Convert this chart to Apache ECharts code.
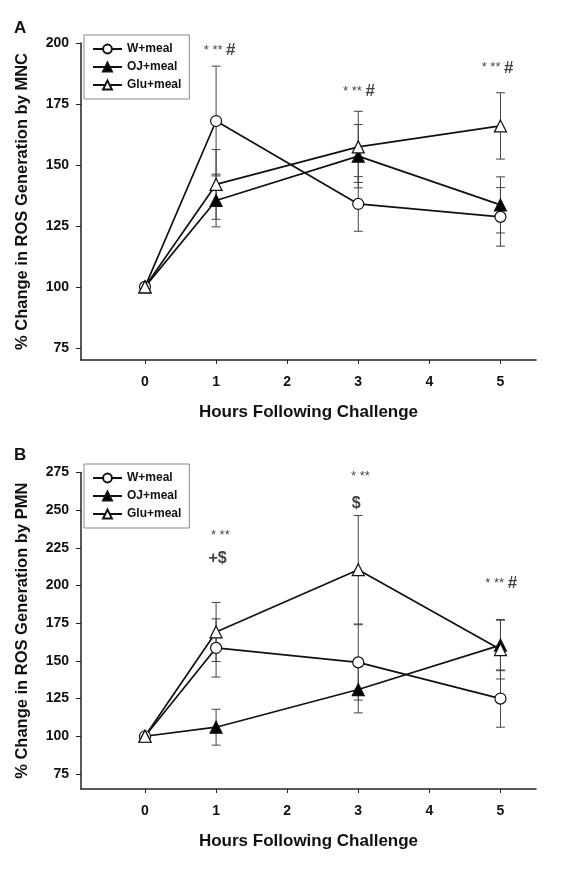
<!DOCTYPE html>
<html>
<head>
<meta charset="utf-8">
<script src="https://cdn.jsdelivr.net/npm/echarts@6/dist/echarts.min.js"></script>
<style>
html,body{margin:0;padding:0;background:#fff;}
#main{width:568px;height:870px;}
</style>
</head>
<body>
<div id="main"></div>
<script>
// hours after the challenge
var hours = [0, 1, 3, 5];
var xTicks = [0, 1, 2, 3, 4, 5];

// panel A: MNC
var wMealA = [100, 168, 134, 128.7];
var wErrA = [0, 22.5, 11.2, 12];
var ojMealA = [100, 135.4, 153.6, 133.6];
var ojErrA = [0, 10.8, 13, 11.5];
var gluMealA = [100, 142, 157.4, 166];
var gluErrA = [0, 14.3, 14.6, 13.6];
var yTicksA = [75, 100, 125, 150, 175, 200];

// panel B: PMN
var wMealB = [100, 158.6, 149, 125];
var wErrB = [0, 19.3, 25, 19];
var ojMealB = [100, 106, 131, 160.5];
var ojErrB = [0, 11.9, 15.5, 17];
var gluMealB = [100, 169.2, 210.5, 157.5];
var gluErrB = [0, 19.6, 36, 19.5];
var yTicksB = [75, 100, 125, 150, 175, 200, 225, 250, 275];

// significance marks
var annotXA = [1.05, 3.01, 4.96];
var annotYA = [197, 180.3, 189.8];
var annotTextA = ['* ** #', '* ** #', '* ** #'];
var annotXB = [1.06, 1.02, 3.03, 2.97, 5.01];
var annotYB = [233.4, 218, 272.7, 254.5, 201.3];
var annotTextB = ['* **', '+$', '* **', '$', '* ** #'];

var names = ['W+meal', 'OJ+meal', 'Glu+meal'];
var font = "'Liberation Sans', Arial, sans-serif";

var myChart = echarts.init(document.getElementById('main'));

function pts(vals) {
    return hours.map(function (h, i) { return [h, vals[i]]; });
}

function lineSeries(name, vals, idx, symbol, fill) {
    return {
        name: name,
        type: 'line',
        xAxisIndex: idx,
        yAxisIndex: idx,
        data: pts(vals),
        symbol: symbol,
        symbolSize: symbol == 'circle' ? 11 : 12,
        z: 5,
        lineStyle: { color: '#111', width: 1.7 },
        itemStyle: { color: fill, borderColor: '#111', borderWidth: 1.2 },
        emphasis: { disabled: true },
        animation: false
    };
}

function errSeries(name, vals, errs, idx) {
    var d = [];
    hours.forEach(function (h, i) {
        if (errs[i] > 0) d.push([h, vals[i] - errs[i], vals[i] + errs[i]]);
    });
    return {
        name: name + ' err',
        type: 'custom',
        xAxisIndex: idx,
        yAxisIndex: idx,
        data: d,
        encode: { x: 0, y: [1, 2] },
        z: 2,
        silent: true,
        animation: false,
        renderItem: function (params, api) {
            var x = api.value(0);
            var lo = api.coord([x, api.value(1)]);
            var hi = api.coord([x, api.value(2)]);
            var w = 4.5;
            var st = { stroke: '#444', lineWidth: 1 };
            return {
                type: 'group',
                children: [
                    { type: 'line', shape: { x1: lo[0], y1: lo[1], x2: hi[0], y2: hi[1] }, style: st },
                    { type: 'line', shape: { x1: hi[0] - w, y1: hi[1], x2: hi[0] + w, y2: hi[1] }, style: st },
                    { type: 'line', shape: { x1: lo[0] - w, y1: lo[1], x2: lo[0] + w, y2: lo[1] }, style: st }
                ]
            };
        }
    };
}

function fmtMark(t) {
    return t.split(' ').map(function (p) {
        if (p.indexOf('*') >= 0) return '{s|' + p + '}';
        if (p == '#') return '{h|#}';
        return '{d|' + p + '}';
    }).join('{s| }');
}

function annotSeries(xs, ys, texts, idx) {
    return {
        type: 'scatter',
        xAxisIndex: idx,
        yAxisIndex: idx,
        symbolSize: 0,
        silent: true,
        animation: false,
        data: xs.map(function (x, i) { return { value: [x, ys[i]], text: texts[i] }; }),
        label: {
            show: true,
            position: 'inside',
            formatter: function (p) { return fmtMark(p.data.text); },
            rich: {
                s: { fontFamily: font, fontSize: 13, color: '#111' },
                h: { fontFamily: font, fontSize: 17, fontWeight: 'bold', color: '#111' },
                d: { fontFamily: font, fontSize: 16, fontWeight: 'bold', color: '#111' }
            }
        }
    };
}

function xAxisCfg(idx) {
    return {
        type: 'value',
        gridIndex: idx,
        min: -0.9,
        max: 5.5,
        name: 'Hours Following Challenge',
        nameLocation: 'middle',
        nameGap: 44,
        nameTextStyle: { fontFamily: font, fontSize: 17, fontWeight: 'bold', color: '#111' },
        axisLine: { show: true, onZero: false, lineStyle: { color: '#222', width: 1.5 } },
        axisTick: { show: true, length: 4, customValues: xTicks, lineStyle: { color: '#222' } },
        axisLabel: { customValues: xTicks, margin: 15, fontFamily: font, fontSize: 14, fontWeight: 'bold', color: '#111' },
        splitLine: { show: false }
    };
}

function yAxisCfg(idx, min, max, ticks, title) {
    return {
        type: 'value',
        gridIndex: idx,
        min: min,
        max: max,
        name: title,
        nameLocation: 'middle',
        nameGap: 50,
        nameTextStyle: { fontFamily: font, fontSize: 16.5, fontWeight: 'bold', color: '#111' },
        axisLine: { show: true, onZero: false, lineStyle: { color: '#222', width: 1.5 } },
        axisTick: { show: true, length: 5, customValues: ticks, lineStyle: { color: '#222' } },
        axisLabel: { customValues: ticks, margin: 12, fontFamily: font, fontSize: 14, fontWeight: 'bold', color: '#111' },
        splitLine: { show: false }
    };
}

function legendCfg(top) {
    return {
        data: names,
        orient: 'vertical',
        left: 84,
        top: top,
        itemWidth: 29,
        itemHeight: 11,
        itemGap: 6,
        padding: [8, 8, 8, 8],
        borderColor: '#888',
        borderWidth: 1,
        selectedMode: false,
        textStyle: { fontFamily: font, fontSize: 12, fontWeight: 'bold', color: '#111' }
    };
}

option = {
    backgroundColor: '#fff',
    title: [
        { text: 'A', left: 14, top: 20, padding: 0, textStyle: { fontFamily: font, fontSize: 17, fontWeight: 'bold', color: '#111' } },
        { text: 'B', left: 14, top: 447, padding: 0, textStyle: { fontFamily: font, fontSize: 17, fontWeight: 'bold', color: '#111' } }
    ],
    legend: [legendCfg(35), legendCfg(464)],
    grid: [
        { left: 81, right: 32, top: 43, bottom: 510 },
        { left: 81, right: 32, top: 472.5, bottom: 81 }
    ],
    xAxis: [xAxisCfg(0), xAxisCfg(1)],
    yAxis: [
        yAxisCfg(0, 70, 200, yTicksA, '% Change in ROS Generation by MNC'),
        yAxisCfg(1, 65, 275, yTicksB, '% Change in ROS Generation by PMN')
    ],
    series: [
        errSeries('W+meal', wMealA, wErrA, 0),
        errSeries('OJ+meal', ojMealA, ojErrA, 0),
        errSeries('Glu+meal', gluMealA, gluErrA, 0),
        lineSeries('W+meal', wMealA, 0, 'circle', '#fff'),
        lineSeries('OJ+meal', ojMealA, 0, 'triangle', '#000'),
        lineSeries('Glu+meal', gluMealA, 0, 'triangle', '#fff'),
        errSeries('W+meal', wMealB, wErrB, 1),
        errSeries('OJ+meal', ojMealB, ojErrB, 1),
        errSeries('Glu+meal', gluMealB, gluErrB, 1),
        lineSeries('W+meal', wMealB, 1, 'circle', '#fff'),
        lineSeries('OJ+meal', ojMealB, 1, 'triangle', '#000'),
        lineSeries('Glu+meal', gluMealB, 1, 'triangle', '#fff'),
        annotSeries(annotXA, annotYA, annotTextA, 0),
        annotSeries(annotXB, annotYB, annotTextB, 1)
    ]
};
myChart.setOption(option);
</script>
</body>
</html>
